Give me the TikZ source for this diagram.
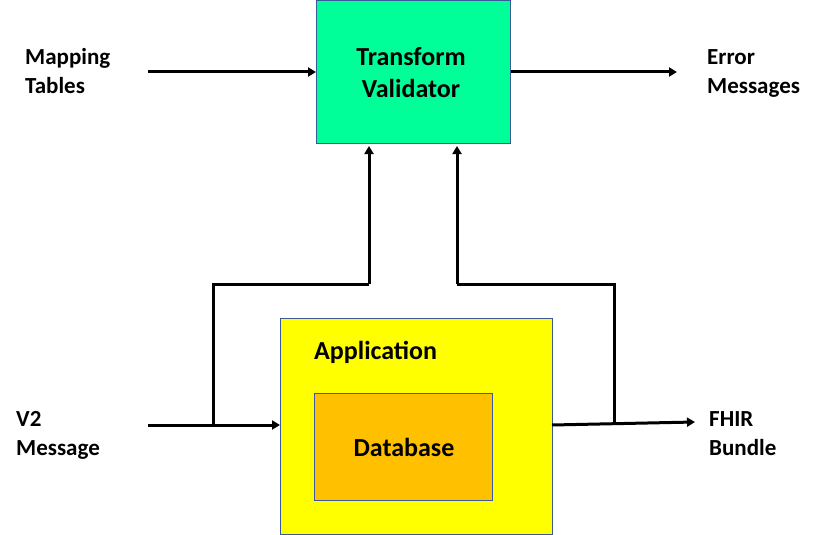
\documentclass[tikz,border=0pt]{standalone}
\usepackage{fontspec}
\setmainfont{Carlito}
\usetikzlibrary{arrows.meta}
\definecolor{valgreen}{HTML}{00FF99}
\definecolor{appyellow}{HTML}{FFFF00}
\definecolor{dborange}{HTML}{FFC000}
\definecolor{boxedge}{HTML}{3B5998}
\tikzset{
  box/.style={draw=boxedge, line width=1pt, inner sep=0pt},
  lbl/.style={inner sep=0pt, align=left, anchor=base west, font=\fontsize{23}{29}\selectfont\bfseries},
  btxt/.style={inner sep=0pt, align=center, font=\fontsize{26}{32}\selectfont\bfseries},
  arr/.style={line width=3pt, -{Triangle[length=8pt,width=9pt]}},
  ln/.style={line width=3pt}
}
\begin{document}
\begin{tikzpicture}[x=1pt,y=-1pt]
\useasboundingbox (0,0) rectangle (830,535);
% boxes
\node[box, fill=valgreen, minimum width=194pt, minimum height=143pt, anchor=north west] (val) at (316,0) {};
\node[btxt, anchor=base] (valtxt) at (411,97) {Transform\\Validator};
\node[box, fill=appyellow, minimum width=272pt, minimum height=216pt, anchor=north west] (app) at (280,318) {};
\node[lbl, font=\fontsize{26}{32}\selectfont\bfseries] (apptxt) at (314,359) {Application};
\node[box, fill=dborange, minimum width=178pt, minimum height=107pt, anchor=north west] (db) at (314,393) {};
\node[btxt, anchor=base] (dbtxt) at (404,456) {Database};
% labels
\node[lbl] (map) at (25,93) {Mapping\\Tables};
\node[lbl] (err) at (707,93) {Error\\Messages};
\node[lbl] (v2) at (16,455) {V2\\Message};
\node[lbl] (fhir) at (709,455) {FHIR\\Bundle};
% connector coordinates
\coordinate (m0) at (148,72);
\coordinate (e1) at (677,72);
\coordinate (v0) at (148,425);
\coordinate (j1) at (213,425);
\coordinate (k1) at (369,284);
\coordinate (u1) at (369,146);
\coordinate (f0) at (552,425);
\coordinate (f1) at (695,422);
\coordinate (j2) at (614,423.5);
\coordinate (k2) at (457,284);
\coordinate (u2) at (457,146);
% connectors
\draw[arr] (m0) -- (val.west |- m0);
\draw[arr] (val.east |- e1) -- (e1);
\draw[arr] (v0) -- (app.west |- v0);
\draw[ln] (j1) |- (k1);
\draw[arr] (k1) -- (u1);
\draw[arr] (f0) -- (f1);
\draw[ln] (j2) |- (k2);
\draw[arr] (k2) -- (u2);
\end{tikzpicture}
\end{document}
